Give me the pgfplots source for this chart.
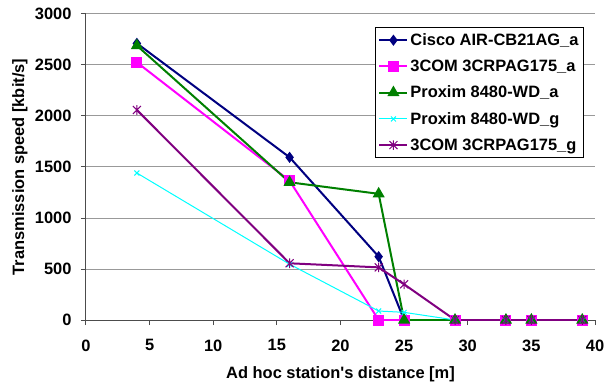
\documentclass[border=0pt]{standalone}
\usepackage{pgfplots}
\pgfplotsset{compat=1.18}
\usepackage{fontspec}
\setmainfont{Liberation Sans}
\newfontfamily\lsans{Liberation Sans}
\usetikzlibrary{calc}
\definecolor{cnavy}{RGB}{0,0,128}
\definecolor{cmag}{RGB}{255,0,255}
\definecolor{cgreen}{RGB}{0,128,0}
\definecolor{ccyan}{RGB}{0,255,255}
\definecolor{cpurp}{RGB}{128,0,128}
\pgfdeclareplotmark{xstar}{%
  \pgfpathmoveto{\pgfqpoint{-\pgfplotmarksize}{-\pgfplotmarksize}}%
  \pgfpathlineto{\pgfqpoint{\pgfplotmarksize}{\pgfplotmarksize}}%
  \pgfpathmoveto{\pgfqpoint{-\pgfplotmarksize}{\pgfplotmarksize}}%
  \pgfpathlineto{\pgfqpoint{\pgfplotmarksize}{-\pgfplotmarksize}}%
  \pgfpathmoveto{\pgfqpoint{0pt}{-1.2\pgfplotmarksize}}%
  \pgfpathlineto{\pgfqpoint{0pt}{1.2\pgfplotmarksize}}%
  \pgfusepathqstroke}
\newcommand{\ff}{\lsans\fontsize{16.5}{19}\selectfont\bfseries}
\begin{document}
\begin{tikzpicture}
\begin{axis}[name=ax,
  scale only axis, width=509bp, height=306bp,
  xmin=0, xmax=40, ymin=0, ymax=3000,
  xtick={0,5,...,40}, ytick={0,500,...,3000},
  axis x line=bottom, axis y line=left,
  axis line style={-, black!70, line width=1bp},
  tick style={black!70, line width=1bp},
  tick align=outside, major tick length=5bp,
  ymajorgrids, grid style={black!40, line width=1bp},
  /pgf/number format/assume math mode=true,
  /pgf/number format/1000 sep={},
  scaled ticks=false,
  ticklabel style={font=\ff},
  xticklabel style={yshift=-11bp},
  yticklabel style={xshift=-6bp},
  label style={font=\ff},
  xlabel={Ad hoc station's distance [m]},
  ylabel={Transmission speed [kbit/s]},
  xlabel style={at={(axis description cs:0.5,-0.177)}, anchor=center},
  ylabel style={at={(axis description cs:-0.1297,0.5)}, anchor=center},
  legend style={at={(rel axis cs:1,1)}, anchor=north east, xshift=-11bp, yshift=-13bp,
    draw=black, line width=1bp, font=\ff,
    inner xsep=3bp, inner ysep=4bp, row sep=9bp},
  legend cell align=left,
  legend image code/.code={\draw[mark repeat=2,mark phase=2,#1] plot coordinates {(0bp,0bp) (14bp,0bp) (28bp,0bp)};},
]
\addplot[cnavy, line width=2bp, mark=diamond*, mark size=4bp, mark options={solid, fill=cnavy}] coordinates {
(4,2712) (16,1595) (23,621) (25,0) (29,0) (33,0) (35,0) (39,0)};
\addlegendentry{Cisco AIR-CB21AG\_a}
\addplot[cmag, line width=2bp, mark=square*, mark size=4.5bp, mark options={solid, fill=cmag}] coordinates {
(4,2526) (16,1365) (23,0) (25,0) (29,0) (33,0) (35,0) (39,0)};
\addlegendentry{3COM 3CRPAG175\_a}
\addplot[cgreen, line width=2bp, mark=triangle*, mark size=5bp, mark options={solid, fill=cgreen}] coordinates {
(4,2690) (16,1350) (23,1237) (25,0) (29,0) (33,0) (35,0) (39,0)};
\addlegendentry{Proxim 8480-WD\_a}
\addplot[ccyan, line width=1bp, mark=x, mark size=3.5bp, mark options={solid}] coordinates {
(4,1441) (16,547) (23,88) (25,75) (29,0) (33,0) (35,0) (39,0)};
\addlegendentry{Proxim 8480-WD\_g}
\addplot[cpurp, line width=2bp, mark=xstar, mark size=4bp, mark options={solid, line width=1bp}] coordinates {
(4,2059) (16,556) (23,516) (25,350) (29,0) (33,0) (35,0) (39,0)};
\addlegendentry{3COM 3CRPAG175\_g}
\end{axis}
\pgfresetboundingbox
\path[use as bounding box] ($(ax.south west)+(-86bp,-66bp)$) rectangle ($(ax.north east)+(18bp,14bp)$);
\end{tikzpicture}
\end{document}
